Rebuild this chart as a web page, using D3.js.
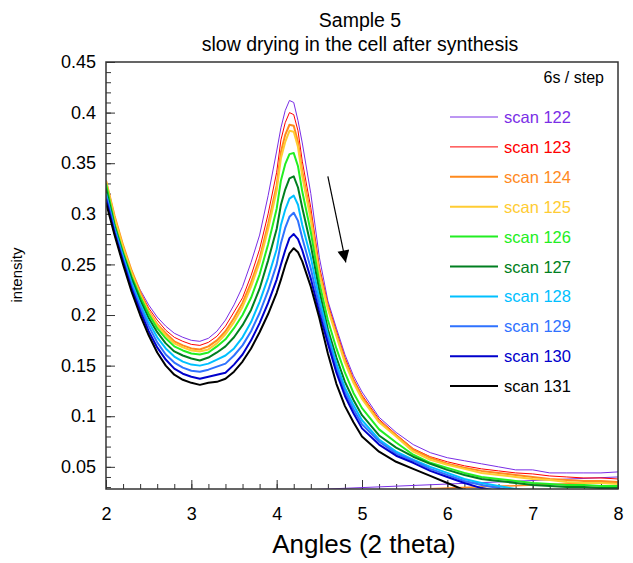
<!DOCTYPE html>
<html lang="en">
<head>
<meta charset="UTF-8">
<title>Sample 5</title>
<style>
  body { margin: 0; background: #fff; }
  svg { display: block; font-family: "Liberation Sans", Arial, sans-serif; }
</style>
</head>
<body>
<svg id="chart" width="633" height="563"></svg>
<script src="https://d3js.org/d3.v7.min.js"></script>
<script>

    // angle grid (2 theta) shared by every scan
    var angles = [2.0, 2.1, 2.2, 2.3, 2.4, 2.5, 2.6, 2.7, 2.8, 2.9, 3.0, 3.1, 3.2, 3.3, 3.4, 3.5, 3.6, 3.7, 3.8, 3.9,
                  4.0, 4.05, 4.1, 4.15, 4.2, 4.25, 4.3, 4.4, 4.5, 4.6, 4.7, 4.8, 4.9, 5.0, 5.2, 5.4, 5.6, 5.8, 6.0,
                  6.2, 6.4, 6.6, 6.8, 7.0, 7.2, 7.4, 7.6, 7.8, 8.0];

    var scan122 = [.320, .292, .265, .243, .225, .210, .198, .189, .182, .178, .175, .174, .177, .184, .195, .210, .228, .252, .279, .318,
                   .362, .385, .402, .412, .410, .392, .370, .320, .257, .214, .187, .161, .140, .124, .099, .084, .072, .064, .059,
                   .056, .053, .050, .047, .047, .044, .044, .044, .044, .045];
    var scan123 = [.328, .294, .267, .243, .223, .207, .195, .185, .178, .174, .171, .170, .173, .179, .189, .203, .217, .239, .265, .300,
                   .341, .373, .390, .400, .398, .382, .352, .306, .248, .211, .184, .158, .137, .121, .097, .082, .068, .060, .055,
                   .051, .048, .046, .044, .043, .041, .040, .039, .039, .038];
    var scan124 = [.333, .298, .269, .244, .223, .204, .191, .182, .174, .170, .167, .166, .169, .175, .184, .197, .212, .232, .256, .290,
                   .328, .361, .378, .388, .387, .371, .342, .298, .243, .208, .181, .155, .135, .119, .095, .081, .067, .059, .053,
                   .049, .046, .044, .042, .040, .038, .037, .036, .036, .035];
    var scan125 = [.332, .296, .267, .242, .220, .203, .190, .180, .172, .168, .165, .164, .166, .172, .181, .193, .208, .228, .252, .285,
                   .323, .355, .371, .382, .381, .366, .337, .294, .240, .206, .179, .153, .133, .117, .094, .080, .065, .057, .052,
                   .048, .044, .042, .040, .038, .037, .035, .034, .034, .033];
    var scan126 = [.330, .290, .262, .238, .218, .201, .187, .177, .169, .165, .162, .161, .163, .169, .176, .187, .200, .217, .240, .270,
                   .305, .333, .349, .359, .360, .347, .322, .282, .232, .195, .167, .143, .123, .108, .087, .074, .062, .054, .049,
                   .044, .040, .038, .036, .034, .033, .032, .032, .031, .031];
    var scan127 = [.325, .288, .260, .236, .215, .197, .183, .172, .164, .160, .157, .155, .158, .163, .169, .178, .190, .205, .226, .254,
                   .285, .309, .324, .335, .337, .326, .306, .269, .224, .186, .158, .134, .116, .101, .081, .069, .060, .053, .047,
                   .042, .038, .036, .034, .032, .031, .030, .030, .029, .029];
    var scan128 = [.320, .286, .258, .232, .211, .193, .178, .167, .159, .154, .151, .150, .152, .156, .160, .167, .178, .193, .213, .237,
                   .265, .289, .304, .315, .318, .309, .289, .257, .216, .181, .152, .128, .111, .096, .077, .065, .057, .050, .044,
                   .038, .034, .031, .028, .026, .025, .024, .024, .023, .023];
    var scan129 = [.318, .284, .255, .229, .208, .189, .173, .161, .153, .148, .145, .144, .146, .149, .152, .160, .170, .184, .202, .224,
                   .250, .271, .286, .297, .301, .293, .276, .246, .209, .177, .147, .124, .107, .092, .075, .063, .056, .048, .042,
                   .036, .032, .029, .026, .024, .023, .022, .021, .021, .020];
    var scan130 = [.315, .281, .253, .226, .204, .184, .168, .156, .147, .142, .139, .137, .139, .141, .143, .151, .161, .175, .192, .212,
                   .235, .250, .264, .276, .280, .275, .264, .236, .202, .172, .143, .120, .103, .088, .072, .061, .054, .046, .040,
                   .034, .029, .026, .023, .021, .020, .019, .019, .018, .018];
    var scan131 = [.311, .279, .250, .223, .200, .180, .163, .150, .141, .136, .133, .131, .133, .134, .137, .144, .154, .167, .183, .201,
                   .222, .235, .249, .261, .266, .262, .253, .228, .197, .162, .132, .110, .094, .080, .065, .055, .048, .041, .034,
                   .027, .022, .018, .015, .013, .012, .011, .010, .010, .009];

    var scanNames  = ["scan 122", "scan 123", "scan 124", "scan 125", "scan 126",
                      "scan 127", "scan 128", "scan 129", "scan 130", "scan 131"];
    var scanColors = ["#7a2ee6", "#ff0000", "#ff8a1e", "#ffcc33", "#22ee22",
                      "#007f20", "#00c0ff", "#2f72ff", "#0000cc", "#000000"];
    var scanWidths = [1, 1, 2, 2, 2, 2, 2, 2, 2, 2];
    var scanValues = [scan122, scan123, scan124, scan125, scan126, scan127, scan128, scan129, scan130, scan131];

    // straight background lines near the bottom
    var baseAngles = [2, 8];
    var basePurple = [0.019, 0.040];
    var baseOrange = [0.017, 0.035];

    // arrow (angle, intensity) from -> to
    var arrowAngles = [4.60, 4.81];
    var arrowValues = [0.337, 0.252];

    var xTickValues = [2, 3, 4, 5, 6, 7, 8];
    var xTickLabels = ["2", "3", "4", "5", "6", "7", "8"];
    var yTickValues = [0.05, 0.1, 0.15, 0.2, 0.25, 0.3, 0.35, 0.4, 0.45];
    var yTickLabels = ["0.05", "0.1", "0.15", "0.2", "0.25", "0.3", "0.35", "0.4", "0.45"];


    var svg = d3.select("#chart"),
        plotLeft = 106, plotRight = 618, plotTop = 62, plotBottom = 489;

    var x = d3.scaleLinear().domain([2, 8]).range([plotLeft, plotRight]),
        y = d3.scaleLinear().domain([0.0281, 0.45]).range([plotBottom, plotTop]);

    var defs = svg.append("defs");
    defs.append("clipPath").attr("id", "plotclip")
        .append("rect")
        .attr("x", plotLeft).attr("y", plotTop)
        .attr("width", plotRight - plotLeft).attr("height", plotBottom - plotTop);

    // titles
    svg.append("text").attr("x", 360).attr("y", 27).attr("text-anchor", "middle")
        .attr("font-size", 19.5).text("Sample 5");
    svg.append("text").attr("x", 360).attr("y", 51).attr("text-anchor", "middle")
        .attr("font-size", 19.5).text("slow drying in the cell after synthesis");

    // minor ticks
    var yMinor = d3.range(0.03, 0.445, 0.01);
    var xMinor = d3.range(2, 8.001, 0.2);

    svg.append("g").attr("transform", "translate(" + plotLeft + ",0)")
        .call(d3.axisLeft(y).tickValues(yMinor).tickSize(-5).tickFormat(""))
        .call(function (g) { g.select(".domain").remove(); });
    svg.append("g").attr("transform", "translate(0," + plotBottom + ")")
        .call(d3.axisBottom(x).tickValues(xMinor).tickSize(-5).tickFormat(""))
        .call(function (g) { g.select(".domain").remove(); });

    // major ticks + labels
    var yAxis = svg.append("g").attr("transform", "translate(" + plotLeft + ",0)")
        .call(d3.axisLeft(y).tickValues(yTickValues).tickSize(-9).tickPadding(10)
              .tickFormat(function (d, i) { return yTickLabels[i]; }));
    yAxis.select(".domain").remove();
    yAxis.selectAll("text").attr("font-size", 18).attr("fill", "#000");
    yAxis.attr("font-family", null);

    var xAxis = svg.append("g").attr("transform", "translate(0," + plotBottom + ")")
        .call(d3.axisBottom(x).tickValues(xTickValues).tickSize(-9).tickPadding(18)
              .tickFormat(function (d, i) { return xTickLabels[i]; }));
    xAxis.select(".domain").remove();
    xAxis.selectAll("text").attr("font-size", 18).attr("fill", "#000");
    xAxis.attr("font-family", null);

    svg.selectAll(".tick line").attr("stroke", "#333");

    // axis labels
    svg.append("text").attr("x", 364).attr("y", 553).attr("text-anchor", "middle")
        .attr("font-size", 26).text("Angles (2 theta)");
    svg.append("text").attr("transform", "translate(22,275) rotate(-90)")
        .attr("text-anchor", "middle").attr("font-size", 15).text("intensity");

    // curves
    var plot = svg.append("g").attr("clip-path", "url(#plotclip)");

    var line = d3.line()
        .x(function (d) { return x(d[0]); })
        .y(function (d) { return y(d[1]); });

    plot.append("path")
        .attr("d", line(d3.zip(baseAngles, basePurple)))
        .attr("fill", "none").attr("stroke", scanColors[0]).attr("stroke-width", 1);
    plot.append("path")
        .attr("d", line(d3.zip(baseAngles, baseOrange)))
        .attr("fill", "none").attr("stroke", scanColors[2]).attr("stroke-width", 1.5);

    scanValues.forEach(function (vals, i) {
        plot.append("path")
            .attr("d", line(d3.zip(angles, vals)))
            .attr("fill", "none")
            .attr("stroke", scanColors[i])
            .attr("stroke-width", scanWidths[i])
            .attr("stroke-linejoin", "round");
    });

    // frame
    svg.append("rect")
        .attr("x", plotLeft).attr("y", plotTop)
        .attr("width", plotRight - plotLeft).attr("height", plotBottom - plotTop)
        .attr("fill", "none").attr("stroke", "#333").attr("stroke-width", 1.5);

    // arrow
    defs.append("marker")
        .attr("id", "head").attr("viewBox", "0 0 10 10")
        .attr("refX", 10).attr("refY", 5)
        .attr("markerWidth", 15).attr("markerHeight", 12)
        .attr("markerUnits", "userSpaceOnUse")
        .attr("orient", "auto")
        .append("path").attr("d", "M0,0 L10,5 L0,10 Z").attr("fill", "#000");

    svg.append("line")
        .attr("x1", x(arrowAngles[0])).attr("y1", y(arrowValues[0]))
        .attr("x2", x(arrowAngles[1])).attr("y2", y(arrowValues[1]))
        .attr("stroke", "#000").attr("stroke-width", 1.2)
        .attr("marker-end", "url(#head)");

    // legend
    svg.append("text").attr("x", 604).attr("y", 83).attr("text-anchor", "end")
        .attr("font-size", 16).text("6s / step");

    var legend = svg.append("g");
    scanNames.forEach(function (name, i) {
        var ly = 117 + i * 29.9;
        legend.append("line")
            .attr("x1", 450).attr("x2", 498).attr("y1", ly).attr("y2", ly)
            .attr("stroke", scanColors[i]).attr("stroke-width", scanWidths[i]);
        legend.append("text")
            .attr("x", 504).attr("y", ly + 6)
            .attr("font-size", 16.5).attr("fill", scanColors[i])
            .text(name);
    });

</script>
</body>
</html>
